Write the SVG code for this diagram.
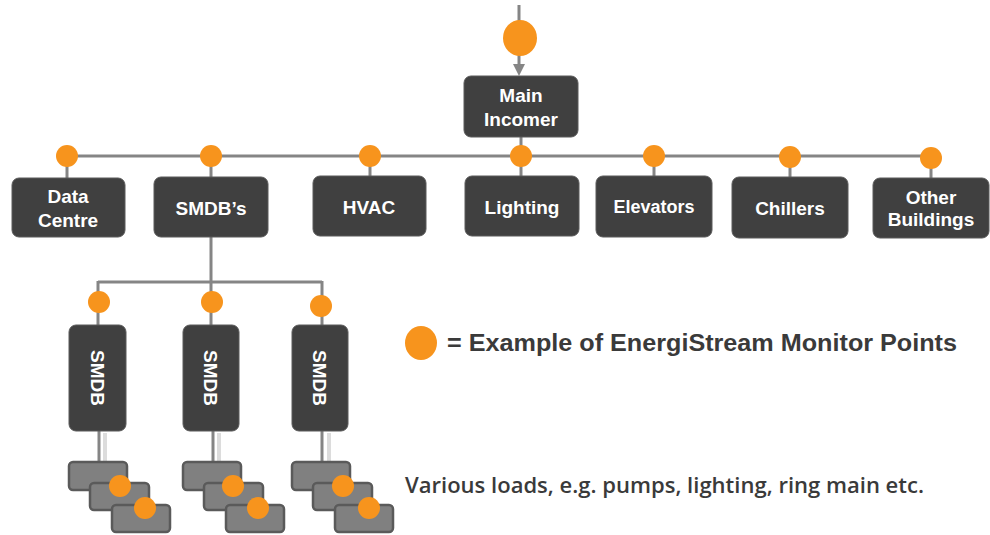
<svg xmlns="http://www.w3.org/2000/svg" width="990" height="535" viewBox="0 0 990 535">
<defs>
<style>
.box{fill:#404040;stroke:#5a5a5a;stroke-width:1}
.t{fill:#fff;font-family:"Liberation Sans",Arial,sans-serif;font-weight:bold;font-size:19px;text-anchor:middle}
.ln{stroke:#858585;stroke-width:3;fill:none}
.sh{stroke:#dcdcdc;stroke-width:4;fill:none}
.dot{fill:#F7941D}
.load{fill:#808080;stroke:#5a5a5a;stroke-width:2.5}
</style>
<marker id="ah" viewBox="0 0 10 10" refX="5" refY="5" markerWidth="4" markerHeight="4" orient="auto">
<path d="M0,0 L10,5 L0,10 z" fill="#858585"/>
</marker>
</defs>
<rect width="990" height="535" fill="#fff"/>
<g id="connectors">
<line class="ln" x1="519" y1="5" x2="519" y2="70" marker-end="url(#ah)"/>
<line class="ln" x1="521" y1="137" x2="521" y2="156"/>
<line class="ln" x1="67" y1="156" x2="931" y2="156"/>
<line class="ln" x1="67" y1="156" x2="67" y2="178"/>
<line class="ln" x1="211" y1="156" x2="211" y2="178"/>
<line class="ln" x1="370" y1="156" x2="370" y2="177"/>
<line class="ln" x1="521" y1="156" x2="521" y2="177"/>
<line class="ln" x1="654" y1="156" x2="654" y2="177"/>
<line class="ln" x1="790" y1="157" x2="790" y2="178"/>
<line class="ln" x1="931" y1="158" x2="931" y2="179"/>
<line class="ln" x1="211" y1="237" x2="211" y2="282"/>
<line class="ln" x1="98" y1="282" x2="322" y2="282"/>
<line class="ln" x1="98" y1="281" x2="98" y2="325"/>
<line class="ln" x1="322" y1="281" x2="322" y2="325"/>
<line class="ln" x1="211" y1="282" x2="211" y2="325"/>
<line class="sh" x1="105" y1="433" x2="105" y2="462"/>
<line class="sh" x1="219" y1="433" x2="219" y2="462"/>
<line class="sh" x1="329" y1="433" x2="329" y2="462"/>
<line class="ln" x1="99" y1="431" x2="99" y2="463"/>
<line class="ln" x1="213" y1="431" x2="213" y2="463"/>
<line class="ln" x1="322" y1="431" x2="322" y2="463"/>
</g>
<g id="incomer-point"><ellipse class="dot" cx="520" cy="38" rx="17" ry="18"/></g>
<g id="main-incomer">
<rect class="box" x="464" y="76" width="114" height="61" rx="7"/>
<text class="t" x="521" y="102">Main</text>
<text class="t" x="521" y="126">Incomer</text>
</g>
<g id="data-centre">
<circle class="dot" cx="67" cy="156" r="11"/>
<rect class="box" x="12" y="178" width="113" height="59" rx="7"/>
<text class="t" x="68" y="203">Data</text>
<text class="t" x="68" y="227">Centre</text>
</g>
<g id="smdbs">
<circle class="dot" cx="211" cy="156" r="11"/>
<rect class="box" x="154" y="177" width="114" height="60" rx="7"/>
<text class="t" x="211" y="215">SMDB’s</text>
</g>
<g id="hvac">
<circle class="dot" cx="370" cy="156" r="11"/>
<rect class="box" x="313" y="176" width="113" height="60" rx="7"/>
<text class="t" x="369" y="214">HVAC</text>
</g>
<g id="lighting">
<circle class="dot" cx="521" cy="156" r="11"/>
<rect class="box" x="465" y="176" width="114" height="60" rx="7"/>
<text class="t" x="522" y="214">Lighting</text>
</g>
<g id="elevators">
<circle class="dot" cx="654" cy="156" r="11"/>
<rect class="box" x="596" y="176" width="116" height="61" rx="7"/>
<text class="t" x="654" y="213" style="font-size:18px">Elevators</text>
</g>
<g id="chillers">
<circle class="dot" cx="790" cy="157" r="11"/>
<rect class="box" x="732" y="177" width="116" height="61" rx="7"/>
<text class="t" x="790" y="215">Chillers</text>
</g>
<g id="other-buildings">
<circle class="dot" cx="931" cy="158" r="11"/>
<rect class="box" x="873" y="178" width="116" height="60" rx="7"/>
<text class="t" x="931" y="204">Other</text>
<text class="t" x="931" y="226">Buildings</text>
</g>
<g id="smdb-1">
<circle class="dot" cx="99" cy="302" r="11"/>
<rect class="box" x="69" y="325" width="57" height="106" rx="7"/>
<text class="t" transform="translate(91,378) rotate(90)">SMDB</text>
</g>
<g id="smdb-2">
<circle class="dot" cx="212" cy="302" r="11"/>
<rect class="box" x="183" y="325" width="56" height="106" rx="7"/>
<text class="t" transform="translate(204,378) rotate(90)">SMDB</text>
</g>
<g id="smdb-3">
<circle class="dot" cx="321" cy="306" r="11"/>
<rect class="box" x="292" y="325" width="56" height="106" rx="7"/>
<text class="t" transform="translate(313,378) rotate(90)">SMDB</text>
</g>
<g id="loads-1">
<rect class="load" x="69" y="462" width="58" height="28" rx="4"/>
<rect class="load" x="90" y="483" width="59" height="27" rx="4"/>
<rect class="load" x="112" y="505" width="58" height="27" rx="4"/>
<circle class="dot" cx="120" cy="486" r="11"/>
<circle class="dot" cx="145" cy="508" r="11"/>
</g>
<g id="loads-2">
<rect class="load" x="183" y="462" width="58" height="28" rx="4"/>
<rect class="load" x="204" y="483" width="59" height="27" rx="4"/>
<rect class="load" x="226" y="505" width="58" height="27" rx="4"/>
<circle class="dot" cx="233" cy="486" r="11"/>
<circle class="dot" cx="258" cy="508" r="11"/>
</g>
<g id="loads-3">
<rect class="load" x="292" y="462" width="58" height="28" rx="4"/>
<rect class="load" x="313" y="483" width="59" height="27" rx="4"/>
<rect class="load" x="335" y="505" width="58" height="27" rx="4"/>
<circle class="dot" cx="343" cy="486" r="11"/>
<circle class="dot" cx="369" cy="508" r="11"/>
</g>
<g id="legend">
<ellipse class="dot" cx="421" cy="343" rx="16" ry="17"/>
<text x="447" y="351" textLength="510" lengthAdjust="spacingAndGlyphs" style="font-family:'Liberation Sans',Arial,sans-serif;font-weight:bold;font-size:23px;fill:#3a3a3a">= Example of EnergiStream Monitor Points</text>
</g>
<g id="loads-label">
<text x="405" y="493" textLength="519" lengthAdjust="spacingAndGlyphs" style="font-family:'Open Sans','Liberation Sans',sans-serif;font-weight:600;font-size:21px;fill:#3a3a3a">Various loads, e.g. pumps, lighting, ring main etc.</text>
</g>
</svg>
